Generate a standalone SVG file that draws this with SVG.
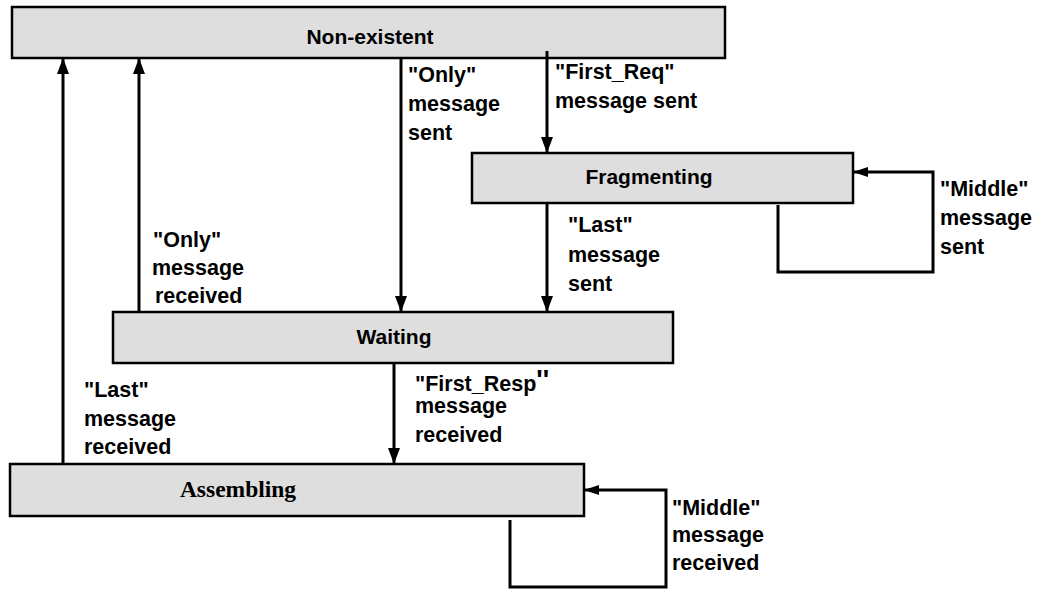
<svg xmlns="http://www.w3.org/2000/svg" width="1041" height="592" viewBox="0 0 1041 592">
<style>
.box{fill:#dedede;stroke:#000;stroke-width:2.5}
.title{font-family:"Liberation Sans",Arial,sans-serif;font-weight:bold;font-size:21px;fill:#000;text-anchor:middle}
.serif{font-family:"Liberation Serif","Times New Roman",serif;font-weight:bold;font-size:23.5px;fill:#000;text-anchor:middle}
.lbl{font-family:"Liberation Sans",Arial,sans-serif;font-weight:bold;font-size:21.5px;fill:#000}
.conn{fill:none;stroke:#000;stroke-width:3}
</style>
<defs>
<marker id="ah" viewBox="0 0 16 12" refX="16" refY="6" markerWidth="16" markerHeight="12" markerUnits="userSpaceOnUse" orient="auto">
<path d="M0,0 L16,6 L0,12 z" fill="#000"/>
</marker>
<marker id="ahs" viewBox="0 0 15 10" refX="15" refY="5" markerWidth="15" markerHeight="10" markerUnits="userSpaceOnUse" orient="auto">
<path d="M0,0 L15,5 L0,10 z" fill="#000"/>
</marker>
</defs>
<rect width="1041" height="592" fill="#fff"/>

<g id="node-nonexistent">
<rect class="box" x="12" y="7" width="713" height="51" stroke-width="3"/>
<text class="title" x="370" y="44">Non-existent</text>
</g>
<g id="node-fragmenting">
<rect class="box" x="472" y="153" width="381" height="50"/>
<text class="title" x="649" y="184">Fragmenting</text>
</g>
<g id="node-waiting">
<rect class="box" x="113" y="312" width="560" height="51"/>
<text class="title" x="394" y="344">Waiting</text>
</g>
<g id="node-assembling">
<rect class="box" x="10" y="464" width="574" height="52"/>
<text class="serif" x="238" y="497">Assembling</text>
</g>

<g id="connectors">
<path class="conn" d="M63,464 V58" marker-end="url(#ah)"/>
<path class="conn" d="M139,312 V58" marker-end="url(#ah)"/>
<path class="conn" d="M401,58 V312" marker-end="url(#ah)"/>
<path class="conn" d="M547,51 V153" marker-end="url(#ah)"/>
<path class="conn" d="M547,203 V312" marker-end="url(#ah)"/>
<path class="conn" d="M778,205 V272 H933 V172 H853" marker-end="url(#ahs)"/>
<path class="conn" d="M394,363 V464" marker-end="url(#ah)"/>
<path class="conn" d="M510,520 V587 H666 V490 H584" marker-end="url(#ahs)"/>
</g>

<g id="labels">
<text class="lbl" x="408" y="82">"Only"</text>
<text class="lbl" x="408" y="111">message</text>
<text class="lbl" x="408" y="140">sent</text>

<text class="lbl" x="555" y="79">"First_Req"</text>
<text class="lbl" x="555" y="108">message sent</text>

<text class="lbl" x="568" y="232">"Last"</text>
<text class="lbl" x="568" y="262">message</text>
<text class="lbl" x="568" y="291">sent</text>

<text class="lbl" x="940" y="196">"Middle"</text>
<text class="lbl" x="940" y="225">message</text>
<text class="lbl" x="940" y="254">sent</text>

<text class="lbl" x="153" y="247">"Only"</text>
<text class="lbl" x="152" y="275">message</text>
<text class="lbl" x="155" y="303">received</text>

<text class="lbl" x="84" y="397">"Last"</text>
<text class="lbl" x="84" y="426">message</text>
<text class="lbl" x="84" y="454">received</text>

<text class="lbl" x="415" y="391">"First_Resp<tspan font-size="27" dy="-2">''</tspan></text>
<text class="lbl" x="415" y="413">message</text>
<text class="lbl" x="415" y="442">received</text>

<text class="lbl" x="672" y="515">"Middle"</text>
<text class="lbl" x="672" y="542">message</text>
<text class="lbl" x="672" y="570">received</text>
</g>
</svg>
